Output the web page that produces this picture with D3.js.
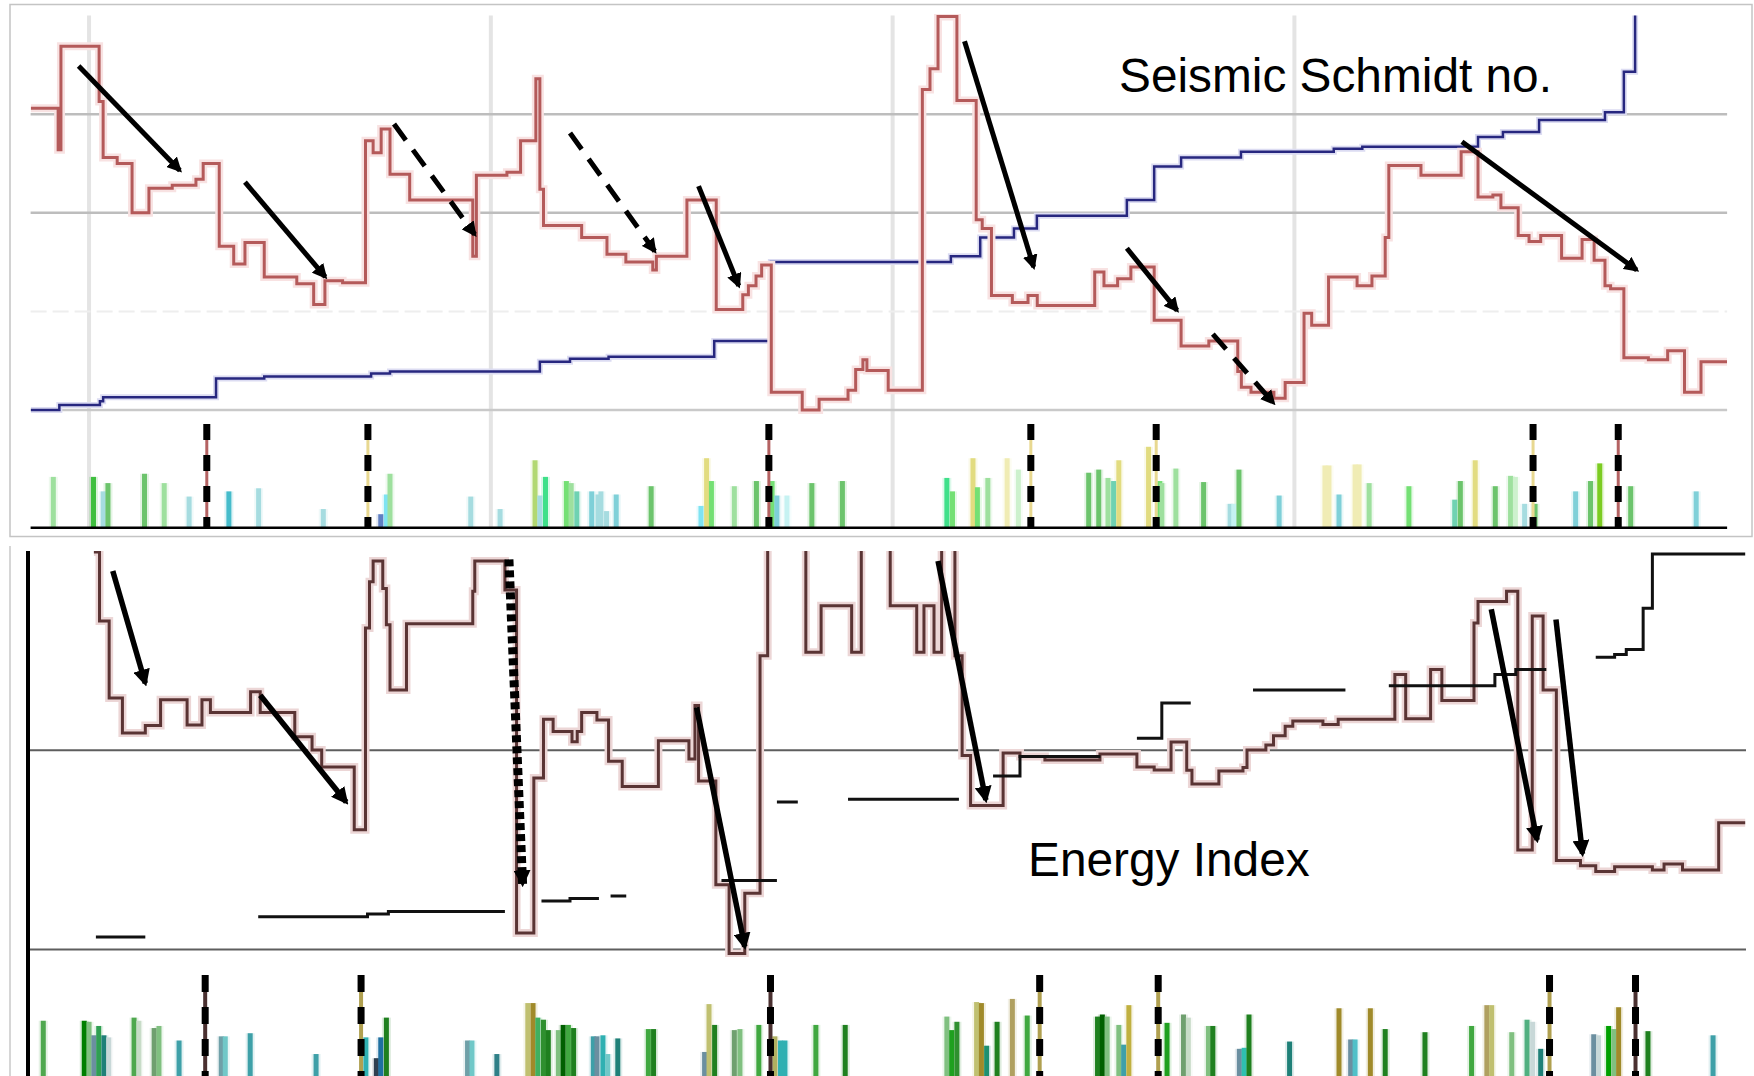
<!DOCTYPE html>
<html>
<head>
<meta charset="utf-8">
<script src="https://cdn.jsdelivr.net/npm/d3@7"></script>
<style>
  html, body { margin: 0; padding: 0; background: #fff; }
  svg { display: block; }
</style>
</head>
<body>
<svg id="chart" width="1754" height="1076"></svg>
<script>
// ---------------------------------------------------------------
// Record time (arbitrary units); vertical gridlines every 100
const gridTicks = [0, 100, 200, 300];

// Seismic Schmidt number: step series (start time, value)
const schmidtT = [-14.5, -7.7, -7.0, 2.5, 3.5, 7.0, 10.7, 14.9, 20.7, 26.6,
  28.4, 32.4, 36.0, 38.8, 43.6, 51.7, 55.9, 58.7, 63.1, 68.8,
  70.7, 72.7, 74.9, 79.8, 95.5, 96.4, 104.0, 107.4, 111.2, 112.2,
  113.1, 122.6, 128.9, 133.6, 140.3, 141.2, 148.8, 156.1, 162.7, 164.1,
  166.0, 167.4, 169.8, 177.5, 181.7, 188.9, 190.8, 192.6, 193.6, 198.9,
  207.4, 209.3, 211.3, 216.0, 220.8, 222.3, 224.6, 229.8, 233.7, 236.0,
  250.3, 252.6, 256.0, 259.3, 265.1, 271.8, 278.7, 285.9, 286.8, 289.2,
  294.9, 297.7, 302.4, 304.3, 308.5, 315.6, 319.3, 322.6, 323.5, 331.5,
  341.5, 345.7, 349.4, 351.4, 355.7, 358.4, 361.3, 366.5, 371.6, 374.6,
  377.3, 378.7, 382.0, 388.1, 392.9, 397.1, 401.2];
const schmidtV = [3.06, 2.64, 3.69, 3.13, 2.56, 2.50, 2.00, 2.25, 2.28, 2.34,
  2.50, 1.66, 1.48, 1.70, 1.35, 1.28, 1.07, 1.31, 1.29, 2.73,
  2.61, 2.85, 2.39, 2.13, 1.56, 2.38, 2.41, 2.73, 3.36, 2.24,
  1.87, 1.75, 1.58, 1.50, 1.42, 1.56, 2.13, 1.02, 1.17, 1.26,
  1.36, 1.47, 0.18, 0.00, 0.11, 0.20, 0.41, 0.51, 0.40, 0.20,
  3.25, 3.46, 3.99, 3.14, 1.93, 1.84, 1.16, 1.09, 1.16, 1.06,
  1.40, 1.26, 1.33, 1.45, 0.91, 0.65, 0.70, 0.39, 0.23, 0.18,
  0.12, 0.28, 0.98, 0.86, 1.35, 1.26, 1.36, 1.75, 2.48, 2.38,
  2.62, 2.16, 2.18, 2.05, 1.77, 1.71, 1.77, 1.54, 1.73, 1.52,
  1.26, 1.23, 0.53, 0.51, 0.60, 0.18, 0.49];
const schmidtEnd = 407.7;

// Cumulative moment release (blue step, top panel)
const cumT = [-14.5, -7.4, 2.7, 3.5, 31.6, 43.6, 70.2, 74.9, 112.2, 119.7,
  129.3, 155.6, 169.7, 214.5, 221.8, 230.2, 235.9, 258.3, 265.1, 271.8,
  286.7, 309.8, 316.9, 345.7, 351.9, 360.9, 377.3, 382.0, 384.8];
const cumV = [0.00, 0.05, 0.09, 0.13, 0.32, 0.34, 0.37, 0.39, 0.49, 0.52,
  0.54, 0.70, 1.50, 1.56, 1.75, 1.84, 1.97, 2.13, 2.47, 2.56,
  2.62, 2.65, 2.67, 2.77, 2.82, 2.94, 3.02, 3.43, 4.0];

// Trend arrows, top panel
const topArrowT0 = [-2.6, 38.8, 75.9, 119.7, 151.7, 217.9, 258.3, 279.7, 341.7];
const topArrowV0 = [3.49, 2.31, 2.90, 2.81, 2.27, 3.74, 1.64, 0.77, 2.72];
const topArrowT1 = [22.6, 58.8, 96.0, 140.8, 161.7, 235.1, 270.8, 294.8, 385.2];
const topArrowV1 = [2.43, 1.35, 1.78, 1.61, 1.26, 1.45, 1.01, 0.07, 1.42];
const topArrowDashed = [false, false, true, true, false, false, false, true, false];

// Event activity bars, top panel
const topBarT = [-8.9, 1.1, 3.5, 4.7, 13.8, 18.7, 24.9, 34.8, 42.2, 58.3,
  72.6, 74.0, 74.9, 95.0, 102.3, 111.0, 112.2, 113.6, 118.8, 120.0,
  121.4, 125.1, 126.7, 127.4, 128.8, 131.2, 139.9, 152.3, 153.7, 154.9,
  160.6, 166.1, 170.0, 171.2, 173.7, 179.9, 187.5, 213.5, 214.9, 220.0,
  221.1, 223.7, 228.5, 231.3, 248.8, 251.3, 253.6, 255.0, 256.3, 263.7,
  266.5, 267.0, 270.5, 277.4, 284.0, 284.9, 286.2, 296.2, 307.6, 308.6,
  311.1, 315.1, 316.1, 318.6, 328.5, 339.9, 341.3, 345.0, 350.0, 353.8,
  355.0, 357.3, 359.9, 370.0, 373.7, 376.0, 383.7, 400.0];
const topBarV = [0.49, 0.49, 0.35, 0.43, 0.52, 0.43, 0.30, 0.35, 0.38, 0.18,
  0.13, 0.32, 0.52, 0.30, 0.18, 0.65, 0.31, 0.49, 0.45, 0.43,
  0.35, 0.35, 0.32, 0.35, 0.16, 0.32, 0.40, 0.21, 0.67, 0.45,
  0.40, 0.45, 0.45, 0.31, 0.31, 0.43, 0.45, 0.48, 0.35, 0.67,
  0.39, 0.48, 0.67, 0.56, 0.53, 0.56, 0.48, 0.45, 0.65, 0.78,
  0.45, 0.43, 0.57, 0.44, 0.23, 0.23, 0.56, 0.31, 0.60, 0.60,
  0.32, 0.61, 0.61, 0.43, 0.40, 0.27, 0.45, 0.65, 0.40, 0.50,
  0.49, 0.23, 0.23, 0.35, 0.45, 0.62, 0.40, 0.35];
const topBarKind = ['lg', 'g', 'lt', 'mg', 'mg', 'lg', 'lt', 't', 'lt', 'lt',
  'b', 'c', 'lg', 'lt', 'lt', 'yg', 'lt', 'bg', 'g2', 'lg',
  'tg', 't2', 'lt', 'lt', 'lt', 't2', 'mg', 'c', 'y', 'g2',
  'lg', 'mg', 'g2', 't2', 'lc', 'mg', 'mg', 'bg', 'g2', 'y',
  'g2', 'lg', 'py', 'pg', 'mg', 'mg', 'lg', 'tg', 'y', 'y',
  'g2', 'lg', 'lg', 'mg', 'lt', 'lc', 'mg', 't2', 'py', 'py',
  't2', 'py', 'py', 'lg', 'g2', 'tg', 'mg', 'y', 'mg', 'lg',
  'pg', 'lt', 'mg', 't2', 'mg', 'lime', 'mg', 't2'];

// Marked events (dashed lines through the bar strips)
const topEventT = [29.3, 69.4, 169.2, 234.4, 265.6, 359.4, 380.6];
const botEventT = [28.9, 67.7, 169.6, 236.6, 266.1, 363.5, 384.9];
const eventKind = ['r', 'y', 'r', 'y', 'y', 'y', 'r'];

// Energy Index: step series (start time, value); values above 2 run off the panel
const energyT = [1.2, 2.6, 5.0, 8.3, 14.0, 17.8, 24.4, 28.1, 30.2, 40.2,
  42.6, 51.2, 55.5, 57.9, 66.0, 68.8, 69.8, 70.7, 73.1, 74.0,
  74.9, 79.0, 95.5, 96.0, 103.5, 106.4, 110.7, 113.1, 115.5, 120.2,
  121.5, 122.6, 126.4, 129.3, 132.7, 141.7, 149.3, 150.8, 151.7, 156.0,
  159.3, 163.2, 167.0, 168.9, 178.4, 182.2, 189.8, 192.2, 199.4, 206.0,
  207.8, 210.3, 212.2, 215.5, 217.3, 219.4, 227.5, 231.7, 237.9, 251.6,
  260.8, 265.1, 269.3, 273.2, 274.5, 281.2, 287.2, 288.2, 292.9, 294.8,
  297.7, 299.6, 307.1, 310.9, 325.0, 327.7, 333.9, 336.7, 344.7, 345.7,
  352.8, 355.6, 359.2, 361.9, 365.2, 371.2, 375.0, 379.7, 389.1, 392.0,
  396.6, 405.6];
const energyV = [1.995, 1.649, 1.262, 1.086, 1.124, 1.253, 1.127, 1.253, 1.189, 1.293,
  1.189, 1.068, 1.001, 0.916, 0.601, 1.613, 1.846, 1.950, 1.812, 1.630,
  1.302, 1.635, 1.798, 1.950, 1.804, 0.082, 0.860, 1.155, 1.094, 1.042,
  1.094, 1.189, 1.152, 0.944, 0.818, 1.048, 0.956, 1.224, 0.845, 0.325,
  -0.02, 0.282, 1.474, 2.2, 1.492, 1.725, 1.492, 2.2, 1.725, 1.492,
  1.725, 1.492, 2.2, 1.474, 0.973, 0.722, 0.986, 0.968, 0.951, 0.981,
  0.916, 0.901, 1.041, 0.899, 0.830, 0.896, 0.913, 1.001, 1.026, 1.073,
  1.120, 1.147, 1.129, 1.155, 1.380, 1.158, 1.405, 1.25, 1.639, 1.746,
  1.798, 0.499, 1.674, 1.302, 0.446, 0.420, 0.391, 0.415, 0.398, 0.429,
  0.398, 0.636];
const energyEnd = 412.2;

// Cumulative energy (black step, bottom panel); null marks a gap in the record
const baseT = [1.7, 14.0, null, 42.1, 69.3, 74.5, 103.5, null, 112.6, 119.7, 126.9, null,
  129.8, 133.7, null, 157.4, 171.2, null, 171.2, 176.4, null, 188.9, 216.5, null,
  225.0, 231.7, 251.7, null, 260.8, 267.0, 274.2, null, 289.7, 312.7, null,
  323.5, 349.9, 355.1, 362.7, null, 375.0, 379.7, 382.6, 386.8, 389.1, 412.2];
const baseV = [0.062, 0.062, null, 0.164, 0.178, 0.190, 0.190, null, 0.243, 0.255, 0.255, null,
  0.268, 0.268, null, 0.346, 0.346, null, 0.740, 0.740, null, 0.754, 0.754, null,
  0.870, 0.968, 0.968, null, 1.060, 1.237, 1.237, null, 1.302, 1.302, null,
  1.324, 1.380, 1.405, 1.405, null, 1.466, 1.480, 1.506, 1.712, 1.985, 1.985];

// Trend arrows, bottom panel
const botArrowT0 = [5.9, 42.6, 104.5, 151.2, 211.3, 349.0, 365.1];
const botArrowV0 = [1.90, 1.276, 1.958, 1.215, 1.95, 1.708, 1.656];
const botArrowT1 = [14.0, 64.0, 107.9, 163.2, 223.2, 360.4, 371.7];
const botArrowV1 = [1.336, 0.740, 0.329, 0.014, 0.75, 0.549, 0.480];
const botArrowDashed = [false, false, true, false, false, false, false];

// Event activity bars, bottom panel
const botBarT = [-11.4, -1.2, 0.0, 1.2, 2.4, 3.7, 4.9, 11.2, 12.4, 16.2,
  17.4, 22.4, 32.9, 33.9, 40.1, 56.5, 68.9, 71.5, 72.6, 74.0,
  94.2, 95.3, 101.5, 109.2, 110.5, 111.7, 113.1, 114.3, 116.8, 118.0,
  119.3, 120.6, 125.5, 126.4, 127.9, 129.1, 131.6, 139.2, 140.5, 153.2,
  154.3, 155.7, 160.6, 162.0, 166.7, 170.7, 172.1, 173.2, 180.9, 188.2,
  213.5, 214.7, 216.0, 220.9, 222.1, 223.4, 226.0, 229.8, 233.5, 251.0,
  252.2, 253.4, 256.3, 257.5, 258.8, 268.3, 272.4, 273.6, 278.6, 279.7,
  286.3, 287.5, 288.7, 298.8, 311.1, 314.0, 315.1, 318.9, 322.6, 332.5,
  344.1, 347.9, 349.1, 354.1, 357.9, 359.3, 361.3, 374.5, 375.7, 378.2,
  379.5, 380.7, 388.0, 404.2];
const botBarV = [0.56, 0.56, 0.55, 0.42, 0.51, 0.42, 0.40, 0.59, 0.56, 0.49,
  0.51, 0.37, 0.41, 0.41, 0.44, 0.24, 0.40, 0.20, 0.40, 0.59,
  0.37, 0.37, 0.24, 0.73, 0.73, 0.59, 0.57, 0.47, 0.47, 0.52,
  0.52, 0.49, 0.41, 0.41, 0.42, 0.24, 0.39, 0.48, 0.48, 0.26,
  0.72, 0.52, 0.47, 0.48, 0.52, 0.41, 0.37, 0.37, 0.52, 0.52,
  0.60, 0.47, 0.55, 0.74, 0.73, 0.32, 0.55, 0.77, 0.61, 0.60,
  0.62, 0.60, 0.52, 0.33, 0.71, 0.54, 0.62, 0.59, 0.51, 0.51,
  0.29, 0.30, 0.62, 0.36, 0.68, 0.38, 0.38, 0.68, 0.48, 0.45,
  0.51, 0.71, 0.71, 0.45, 0.57, 0.55, 0.29, 0.43, 0.42, 0.51,
  0.48, 0.69, 0.46, 0.42];
const botBarKind = ['G', 'DG', 'LG', 'S', 'G2', 'T', 'LS', 'G', 'LS2', 'GG',
  'LG', 'TT', 'ST', 'LT', 'TT', 'TT', 'T2', 'DS', 'B', 'DG2',
  'ST', 'LT', 'DT', 'K', 'O', 'G3', 'G4', 'DG2', 'LG', 'DG3',
  'G5', 'DG2', 'TT', 'S', 'T2', 'LT', 'T', 'G5', 'DG2', 'S',
  'K', 'DG2', 'GG', 'LG', 'G5', 'K2', 'T2', 'T2', 'G5', 'DG2',
  'LG', 'BG', 'G4', 'K', 'O', 'TG', 'DG2', 'K3', 'G5', 'DG2',
  'DG3', 'LG', 'LG', 'TT', 'O2', 'BG', 'GG', 'LS2', 'LG', 'DG2',
  'S', 'T3', 'DG2', 'T', 'O', 'S', 'T4', 'O', 'DG2', 'DG2',
  'G5', 'K3', 'K', 'LG', 'TG2', 'LS', 'T', 'S', 'LS', 'BG2',
  'LG', 'O', 'DG2', 'TT'];

// ---------------------------------------------------------------
const topKindColour = {
  lg: '#9ee09e', g: '#3fbf3f', lt: '#a6dce0', mg: '#6cc46c', t: '#46bccb',
  b: '#5f7fc2', c: '#7fe3f2', yg: '#b2d872', bg: '#3fe08a', g2: '#74e074',
  tg: '#6fd2b2', t2: '#7fd0d8', lc: '#c6f2f2', y: '#e2dc80', py: '#f0ecb4',
  pg: '#cdf1cd', lime: '#7ccc22'
};
const botKindColour = {
  G: '#4fa84f', DG: '#007f00', LG: '#80c080', S: '#6b8fa0', G2: '#2f9f52',
  T: '#1f8078', LS: '#c8d8d8', LS2: '#c8dcc8', GG: '#6fa06f', TT: '#3ea0a8',
  ST: '#6fa0a8', LT: '#70c8c8', T2: '#2fb0b2', DS: '#2f4050', B: '#1f70a0',
  DG2: '#1f801f', DT: '#2f8088', K: '#c0c070', O: '#a08a2a', G3: '#40b060',
  G4: '#2f902f', DG3: '#006000', G5: '#40a840', K2: '#b0b060', BG: '#1fa01f',
  TG: '#1f9070', K3: '#b0a060', O2: '#c0b040', T3: '#2fc0b0', T4: '#50c0c8',
  TG2: '#50b080', BG2: '#00a000'
};
const topEventColour = { r: '#b46262', y: '#e8d890' };
const botEventColour = { r: '#4a3030', y: '#b0a050' };

const svg = d3.select('#chart');
const FONT = '"Liberation Sans", Arial, sans-serif';

// Shared time scale
const x = d3.scaleLinear().domain([-15.2, 412.4]).range([28, 1746]);
const topLeft = x(-14.55), topRight = x(407.7);

// Top panel scales
const yTop = d3.scaleLinear().domain([0, 4]).range([410, 15.6]);
const yTopBar = d3.scaleLinear().domain([0, 1]).range([527.7, 424]);
// Bottom panel scales
const yBot = d3.scaleLinear().domain([0, 2]).range([949.4, 551]);
const yBotBar = d3.scaleLinear().domain([0, 1]).range([1079, 975]);

const defs = svg.append('defs');
defs.append('clipPath').attr('id', 'clipTop')
  .append('rect').attr('x', topLeft).attr('y', 14).attr('width', topRight - topLeft).attr('height', 400);
defs.append('clipPath').attr('id', 'clipBot')
  .append('rect').attr('x', 28).attr('y', 551).attr('width', 1718).attr('height', 406);

function headMarker(id, size) {
  defs.append('marker').attr('id', id)
    .attr('viewBox', '0 0 10 10').attr('refX', 8).attr('refY', 5)
    .attr('markerWidth', size).attr('markerHeight', size)
    .attr('markerUnits', 'userSpaceOnUse').attr('orient', 'auto')
    .append('path').attr('d', 'M0,0 L10,5 L0,10 z').attr('fill', '#000');
}
headMarker('headTop', 15);
headMarker('headBot', 17);

const stepLine = (yScale) => d3.line()
  .defined(d => d[1] != null)
  .x(d => x(d[0])).y(d => yScale(d[1]))
  .curve(d3.curveStepAfter);

function stepPoints(ts, vs, end) {
  const pts = ts.map((t, i) => [t, vs[i]]);
  if (end != null) pts.push([end, vs[vs.length - 1]]);
  return pts;
}

// ===================== TOP PANEL =====================
svg.append('rect').attr('x', 10).attr('y', 4.5).attr('width', 1742).attr('height', 532)
  .attr('fill', '#fff').attr('stroke', '#c4c4c4').attr('stroke-width', 1.5);

const gTop = svg.append('g');

// vertical gridlines
gTop.selectAll('line.vgrid').data(gridTicks).join('line')
  .attr('x1', d => x(d)).attr('x2', d => x(d))
  .attr('y1', 15.6).attr('y2', 527.7)
  .attr('stroke', '#e4e4e4').attr('stroke-width', 4);

// horizontal gridlines
gTop.selectAll('line.hgrid').data([3, 2, 1, 0]).join('line')
  .attr('x1', topLeft).attr('x2', topRight)
  .attr('y1', d => yTop(d)).attr('y2', d => yTop(d))
  .attr('stroke', d => d === 1 ? '#eeeeee' : (d === 0 ? '#c9c9c9' : '#bdbdbd'))
  .attr('stroke-width', d => d === 1 ? 2 : 2.5)
  .attr('stroke-dasharray', d => d === 1 ? '16,6' : null);

// top bars (soft halo + core)
const topBars = topBarT.map((t, i) => ({ t, v: topBarV[i], k: topBarKind[i] }));
gTop.selectAll('rect.thalo').data(topBars).join('rect')
  .attr('x', d => x(d.t) - 4.5).attr('width', 9)
  .attr('y', d => yTopBar(d.v)).attr('height', d => yTopBar(0) - yTopBar(d.v))
  .attr('fill', d => topKindColour[d.k]).attr('opacity', 0.18);
gTop.selectAll('rect.tbar').data(topBars).join('rect')
  .attr('x', d => x(d.t) - 2.5).attr('width', 5)
  .attr('y', d => yTopBar(d.v)).attr('height', d => yTopBar(0) - yTopBar(d.v))
  .attr('fill', d => topKindColour[d.k]);

// marked events, top strip
const topEvents = topEventT.map((t, i) => ({ t, k: eventKind[i] }));
gTop.selectAll('line.tev').data(topEvents).join('line')
  .attr('x1', d => x(d.t)).attr('x2', d => x(d.t))
  .attr('y1', yTopBar(1)).attr('y2', yTopBar(0))
  .attr('stroke', d => topEventColour[d.k]).attr('stroke-width', 3);
gTop.selectAll('line.tevd').data(topEvents).join('line')
  .attr('x1', d => x(d.t)).attr('x2', d => x(d.t))
  .attr('y1', yTopBar(1)).attr('y2', yTopBar(0))
  .attr('stroke', '#000').attr('stroke-width', 7).attr('stroke-dasharray', '16,15');

// strip baseline
gTop.append('line').attr('x1', topLeft).attr('x2', topRight)
  .attr('y1', yTopBar(0)).attr('y2', yTopBar(0))
  .attr('stroke', '#000').attr('stroke-width', 2.5);

const gTopLines = gTop.append('g').attr('clip-path', 'url(#clipTop)');
const schmidtPts = stepPoints(schmidtT, schmidtV, schmidtEnd);
const cumPts = stepPoints(cumT, cumV, null);
const lTop = stepLine(yTop);

gTopLines.append('path').attr('d', lTop(cumPts))
  .attr('fill', 'none').attr('stroke', '#dcdcf2').attr('stroke-width', 6);
gTopLines.append('path').attr('d', lTop(cumPts))
  .attr('fill', 'none').attr('stroke', '#27277f').attr('stroke-width', 2.5);

gTopLines.append('path').attr('d', lTop(schmidtPts))
  .attr('fill', 'none').attr('stroke', '#f8e2e2').attr('stroke-width', 8);
gTopLines.append('path').attr('d', lTop(schmidtPts))
  .attr('fill', 'none').attr('stroke', '#b45a5a').attr('stroke-width', 3);

// trend arrows, top
const topArrows = topArrowT0.map((t, i) => ({
  t0: t, v0: topArrowV0[i], t1: topArrowT1[i], v1: topArrowV1[i], dashed: topArrowDashed[i]
}));
gTop.selectAll('line.tarr').data(topArrows).join('line')
  .attr('x1', d => x(d.t0)).attr('y1', d => yTop(d.v0))
  .attr('x2', d => x(d.t1)).attr('y2', d => yTop(d.v1))
  .attr('stroke', '#000').attr('stroke-width', 5)
  .attr('stroke-dasharray', d => d.dashed ? '20,12' : null)
  .attr('marker-end', 'url(#headTop)');

svg.append('text').attr('x', 1119).attr('y', 92)
  .attr('font-family', FONT).attr('font-size', 47.8).attr('fill', '#000')
  .text('Seismic Schmidt no.');

// ===================== BOTTOM PANEL =====================
const gBot = svg.append('g');

gBot.append('line').attr('x1', 10).attr('x2', 10).attr('y1', 546).attr('y2', 1076)
  .attr('stroke', '#c8c8c8').attr('stroke-width', 1.5);

// bars
const botBars = botBarT.map((t, i) => ({ t, v: botBarV[i], k: botBarKind[i] }));
gBot.selectAll('rect.bhalo').data(botBars).join('rect')
  .attr('x', d => x(d.t) - 4.5).attr('width', 9)
  .attr('y', d => yBotBar(d.v)).attr('height', d => yBotBar(0) - yBotBar(d.v))
  .attr('fill', d => botKindColour[d.k]).attr('opacity', 0.15);
gBot.selectAll('rect.bbar').data(botBars).join('rect')
  .attr('x', d => x(d.t) - 2.5).attr('width', 5)
  .attr('y', d => yBotBar(d.v)).attr('height', d => yBotBar(0) - yBotBar(d.v))
  .attr('fill', d => botKindColour[d.k]);

const botEvents = botEventT.map((t, i) => ({ t, k: eventKind[i] }));
gBot.selectAll('line.bev').data(botEvents).join('line')
  .attr('x1', d => x(d.t)).attr('x2', d => x(d.t))
  .attr('y1', yBotBar(1)).attr('y2', yBotBar(0))
  .attr('stroke', d => botEventColour[d.k]).attr('stroke-width', 4);
gBot.selectAll('line.bevd').data(botEvents).join('line')
  .attr('x1', d => x(d.t)).attr('x2', d => x(d.t))
  .attr('y1', yBotBar(1)).attr('y2', yBotBar(0))
  .attr('stroke', '#000').attr('stroke-width', 7).attr('stroke-dasharray', '17,15');

// reference levels
gBot.selectAll('line.blev').data([1, 0]).join('line')
  .attr('x1', 28).attr('x2', 1746)
  .attr('y1', d => yBot(d)).attr('y2', d => yBot(d))
  .attr('stroke', '#5e5e5e').attr('stroke-width', 2);

const gBotLines = gBot.append('g').attr('clip-path', 'url(#clipBot)');
const lBot = stepLine(yBot);
const energyPts = stepPoints(energyT, energyV, energyEnd);
const basePts = baseT.map((t, i) => [t, baseV[i]]);

gBotLines.append('path').attr('d', lBot(energyPts))
  .attr('fill', 'none').attr('stroke', '#ecd6d6').attr('stroke-width', 8);
gBotLines.append('path').attr('d', lBot(energyPts))
  .attr('fill', 'none').attr('stroke', '#5a3434').attr('stroke-width', 3);
gBotLines.append('path').attr('d', lBot(basePts))
  .attr('fill', 'none').attr('stroke', '#111').attr('stroke-width', 3);

// trend arrows, bottom
const botArrows = botArrowT0.map((t, i) => ({
  t0: t, v0: botArrowV0[i], t1: botArrowT1[i], v1: botArrowV1[i], dashed: botArrowDashed[i]
}));
gBot.selectAll('line.barr').data(botArrows).join('line')
  .attr('x1', d => x(d.t0)).attr('y1', d => yBot(d.v0))
  .attr('x2', d => x(d.t1)).attr('y2', d => yBot(d.v1))
  .attr('stroke', '#000').attr('stroke-width', d => d.dashed ? 9 : 5.5)
  .attr('stroke-dasharray', d => d.dashed ? '7,4' : null)
  .attr('marker-end', 'url(#headBot)');

// left axis
gBot.append('line').attr('x1', 28).attr('x2', 28).attr('y1', 551).attr('y2', 1076)
  .attr('stroke', '#000').attr('stroke-width', 4);

svg.append('text').attr('x', 1028).attr('y', 876)
  .attr('font-family', FONT).attr('font-size', 47.8).attr('fill', '#000')
  .text('Energy Index');
</script>
</body>
</html>
